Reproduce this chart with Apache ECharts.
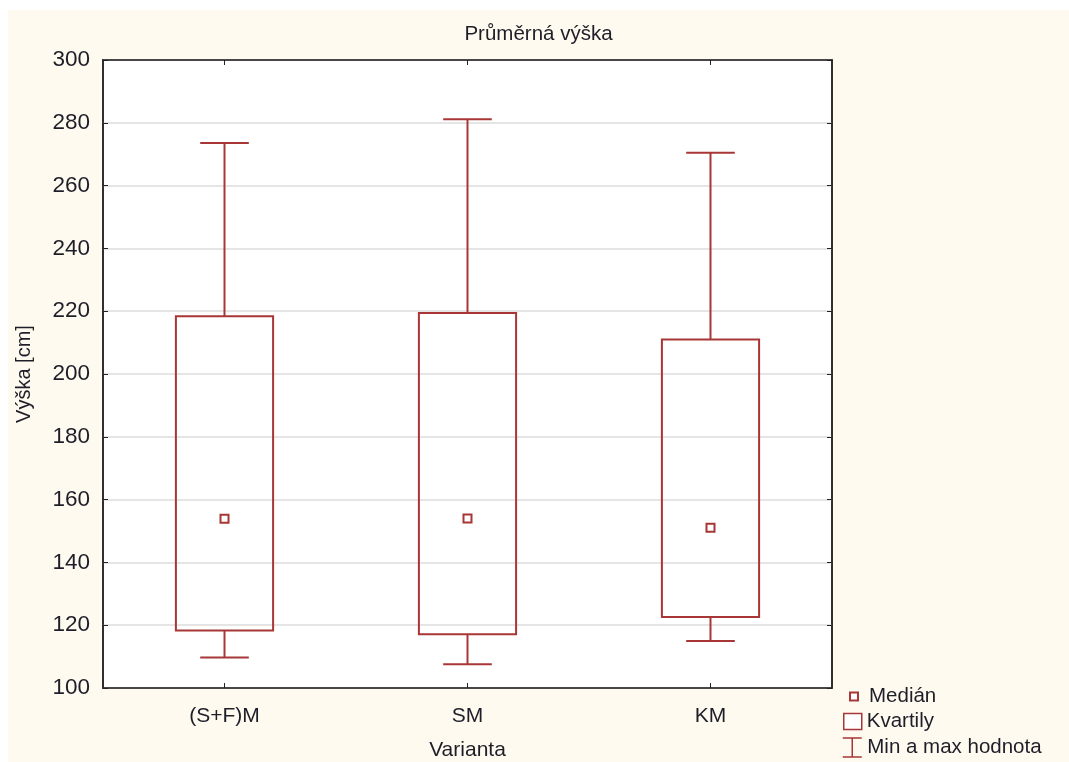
<!DOCTYPE html>
<html>
<head>
<meta charset="utf-8">
<script src="https://cdn.jsdelivr.net/npm/echarts@6/dist/echarts.min.js"></script>
<style>
html,body{margin:0;padding:0;background:#fff;}
#chart{position:absolute;left:8px;top:10px;width:1061px;height:752px;}
</style>
</head>
<body>
<div id="chart"></div>
<script>
const categories = ['(S+F)M', 'SM', 'KM'];
const minValues = [109.7, 107.6, 115.0];
const q1Values = [118.3, 117.1, 122.6];
const medianValues = [153.9, 154.0, 151.0];
const q3Values = [218.4, 219.4, 211.0];
const maxValues = [273.6, 281.1, 270.5];
const yTicks = [100, 120, 140, 160, 180, 200, 220, 240, 260, 280, 300];

const RED = '#a83636';
const FONT = 'Liberation Sans, Arial, sans-serif';
const TXT = '#1e1e28';

const boxData = categories.map((c, i) => [i, q1Values[i], q3Values[i]]);
const whiskerData = categories.map((c, i) => [i, minValues[i], q1Values[i], q3Values[i], maxValues[i]]);
const medianData = categories.map((c, i) => [i, medianValues[i]]);

const chart = echarts.init(document.getElementById('chart'));
chart.setOption({
  backgroundColor: '#fefaf0',
  animation: false,
  title: {
    text: 'Průměrná výška',
    left: 'center', top: 9,
    textStyle: { fontFamily: FONT, fontSize: 20.5, fontWeight: 'normal', color: TXT }
  },
  grid: {
    left: 95, top: 50, right: 237, bottom: 74,
    outerBoundsMode: 'none', containLabel: false,
    show: true, backgroundColor: '#ffffff', borderColor: '#222', borderWidth: 1.5
  },
  legend: [
    {
      data: ['Medián'], left: 836, top: 671, orient: 'vertical',
      icon: 'rect', itemWidth: 8, itemHeight: 8,
      itemStyle: { color: '#fff', borderColor: RED, borderWidth: 2 },
      textStyle: { fontFamily: FONT, fontSize: 20.5, color: TXT, padding: [0, 0, 0, 6] },
      selectedMode: false
    },
    {
      data: ['Kvartily'], left: 830, top: 696, orient: 'vertical',
      icon: 'rect', itemWidth: 18, itemHeight: 16,
      itemStyle: { color: '#fff', borderColor: RED, borderWidth: 1.5 },
      textStyle: { fontFamily: FONT, fontSize: 20.5, color: TXT },
      selectedMode: false
    },
    {
      data: ['Min a max hodnota'], left: 829, top: 722, orient: 'vertical',
      icon: 'path://M0 0 L20 0 M10 0 L10 20 M0 20 L20 20', itemWidth: 20, itemHeight: 19,
      itemStyle: { color: 'transparent', borderColor: RED, borderWidth: 1.5 },
      textStyle: { fontFamily: FONT, fontSize: 20.5, color: TXT },
      selectedMode: false
    }
  ],
  xAxis: [
    {
      type: 'category', data: categories, position: 'bottom',
      name: 'Varianta', nameLocation: 'middle', nameGap: 52,
      nameTextStyle: { fontFamily: FONT, fontSize: 21, color: TXT },
      axisLine: { show: true, lineStyle: { color: '#222', width: 1.5 } },
      axisTick: { show: true, inside: true, alignWithLabel: true, length: 5, lineStyle: { color: '#222' } },
      axisLabel: { fontFamily: FONT, fontSize: 21, color: TXT, margin: 18 },
      splitLine: { show: false }
    },
    {
      type: 'category', data: categories, position: 'top',
      axisLine: { show: true, lineStyle: { color: '#222', width: 1.5 } },
      axisTick: { show: true, inside: true, alignWithLabel: true, length: 5, lineStyle: { color: '#222' } },
      axisLabel: { show: false },
      splitLine: { show: false }
    }
  ],
  yAxis: [
    {
      type: 'value', min: yTicks[0], max: yTicks[yTicks.length - 1], interval: 20,
      name: 'Výška [cm]', nameLocation: 'middle', nameGap: 69, nameRotate: 90,
      nameTextStyle: { fontFamily: FONT, fontSize: 20, color: TXT },
      axisLine: { show: true, lineStyle: { color: '#222', width: 1.5 } },
      axisTick: { show: true, inside: true, length: 5, lineStyle: { color: '#222' } },
      axisLabel: { fontFamily: FONT, fontSize: 22.5, color: TXT, margin: 13 },
      splitLine: { show: true, lineStyle: { color: '#dddddd', width: 1.5 } }
    },
    {
      type: 'value', min: yTicks[0], max: yTicks[yTicks.length - 1], interval: 20, position: 'right',
      axisLine: { show: true, lineStyle: { color: '#222', width: 1.5 } },
      axisTick: { show: true, inside: true, length: 5, lineStyle: { color: '#222' } },
      axisLabel: { show: false },
      splitLine: { show: false }
    }
  ],
  series: [
    {
      name: 'Min a max hodnota', type: 'custom', z: 2,
      itemStyle: { color: 'transparent', borderColor: RED },
      data: whiskerData,
      renderItem: function (params, api) {
        const x = api.value(0);
        const pMin = api.coord([x, api.value(1)]);
        const pQ1 = api.coord([x, api.value(2)]);
        const pQ3 = api.coord([x, api.value(3)]);
        const pMax = api.coord([x, api.value(4)]);
        const band = api.size([1, 0])[0];
        const hw = band * 0.1;
        const st = { stroke: RED, lineWidth: 2, fill: null };
        return {
          type: 'group',
          children: [
            { type: 'line', shape: { x1: pMax[0], y1: pMax[1], x2: pQ3[0], y2: pQ3[1] }, style: st },
            { type: 'line', shape: { x1: pMax[0] - hw, y1: pMax[1], x2: pMax[0] + hw, y2: pMax[1] }, style: st },
            { type: 'line', shape: { x1: pQ1[0], y1: pQ1[1], x2: pMin[0], y2: pMin[1] }, style: st },
            { type: 'line', shape: { x1: pMin[0] - hw, y1: pMin[1], x2: pMin[0] + hw, y2: pMin[1] }, style: st }
          ]
        };
      }
    },
    {
      name: 'Kvartily', type: 'custom', z: 3,
      itemStyle: { color: '#fff', borderColor: RED },
      data: boxData,
      renderItem: function (params, api) {
        const x = api.value(0);
        const pQ1 = api.coord([x, api.value(1)]);
        const pQ3 = api.coord([x, api.value(2)]);
        const band = api.size([1, 0])[0];
        const w = band * 0.4;
        return {
          type: 'rect',
          shape: { x: pQ1[0] - w / 2, y: pQ3[1], width: w, height: pQ1[1] - pQ3[1] },
          style: { fill: 'transparent', stroke: RED, lineWidth: 2 }
        };
      }
    },
    {
      name: 'Medián', type: 'scatter', z: 4,
      symbol: 'rect', symbolSize: 8,
      itemStyle: { color: '#fff', borderColor: RED, borderWidth: 2, opacity: 1 },
      data: medianData
    }
  ]
});
</script>
</body>
</html>
